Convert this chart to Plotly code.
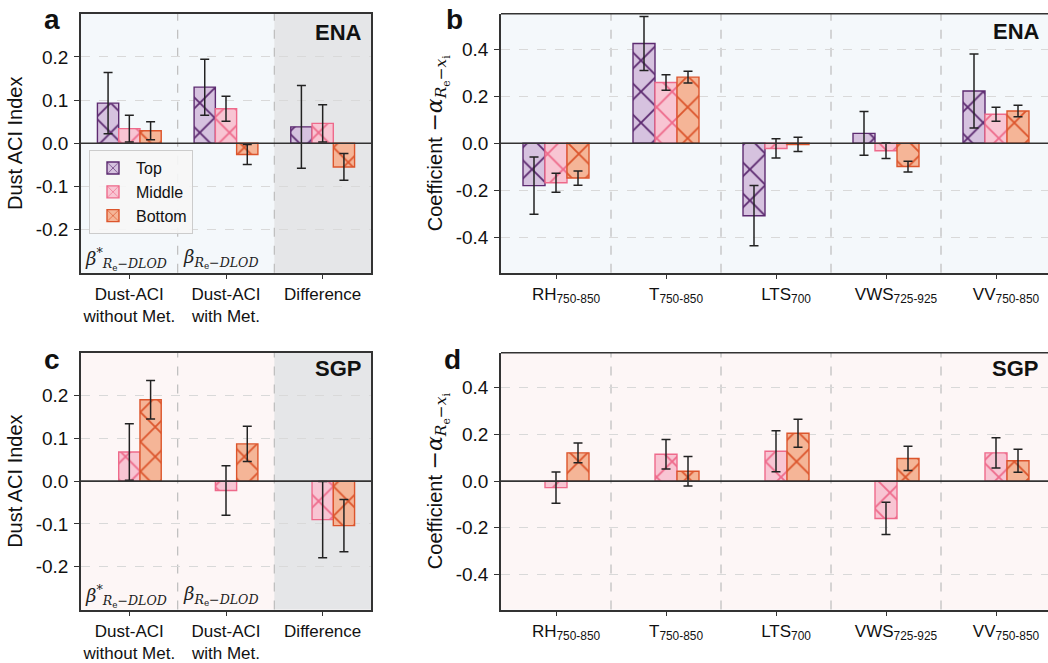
import plotly.graph_objects as go

# ---------------- data ----------------
cats_aci = ["Dust-ACI<br>without Met.", "Dust-ACI<br>with Met.", "Difference"]
cats_met = ["RH<sub>750-850</sub>", "T<sub>750-850</sub>", "LTS<sub>700</sub>",
            "VWS<sub>725-925</sub>", "VV<sub>750-850</sub>"]
series = ["Top", "Middle", "Bottom"]

ena_aci_top = [0.093, 0.130, 0.038]
ena_aci_top_err = [0.071, 0.065, 0.096]
ena_aci_mid = [0.034, 0.080, 0.046]
ena_aci_mid_err = [0.031, 0.029, 0.043]
ena_aci_bot = [0.029, -0.026, -0.055]
ena_aci_bot_err = [0.021, 0.023, 0.031]

sgp_aci_top = [None, None, None]
sgp_aci_top_err = [None, None, None]
sgp_aci_mid = [0.068, -0.022, -0.090]
sgp_aci_mid_err = [0.066, 0.058, 0.089]
sgp_aci_bot = [0.190, 0.087, -0.104]
sgp_aci_bot_err = [0.045, 0.041, 0.061]

ena_met_top = [-0.180, 0.424, -0.308, 0.042, 0.222]
ena_met_top_err = [0.122, 0.115, 0.128, 0.093, 0.157]
ena_met_mid = [-0.168, 0.258, -0.022, -0.032, 0.123]
ena_met_mid_err = [0.040, 0.033, 0.041, 0.033, 0.030]
ena_met_bot = [-0.148, 0.281, -0.005, -0.099, 0.137]
ena_met_bot_err = [0.030, 0.025, 0.030, 0.023, 0.024]

sgp_met_top = [None, None, None, None, None]
sgp_met_top_err = [None, None, None, None, None]
sgp_met_mid = [-0.028, 0.115, 0.128, -0.160, 0.121]
sgp_met_mid_err = [0.067, 0.063, 0.088, 0.069, 0.065]
sgp_met_bot = [0.121, 0.042, 0.205, 0.097, 0.087]
sgp_met_bot_err = [0.042, 0.063, 0.060, 0.052, 0.049]

aci_ticks = [-0.2, -0.1, 0.0, 0.1, 0.2]
aci_ticktext = ["-0.2", "-0.1", "0.0", "0.1", "0.2"]
met_ticks = [-0.4, -0.2, 0.0, 0.2, 0.4]
met_ticktext = ["-0.4", "-0.2", "0.0", "0.2", "0.4"]

# ---------------- style ----------------
FONT = "Liberation Sans, Arial, sans-serif"
SERIF = "DejaVu Serif, serif"
fills = {"Top": "#d6c2df", "Middle": "#f8c5d3", "Bottom": "#f5b597"}
edges = {"Top": "#5c2a70", "Middle": "#ee6a8b", "Bottom": "#dc552c"}
BG_ENA = "#f4f8fb"
BG_SGP = "#fdf6f6"
BG_DIFF = "#e5e6e8"
AXC = "#333333"

W, H = 1048, 663
fig = go.Figure()

panels = [
    ("x", "y", cats_aci, [ena_aci_top, ena_aci_mid, ena_aci_bot],
     [ena_aci_top_err, ena_aci_mid_err, ena_aci_bot_err], 0.22, True, 21),
    ("x2", "y2", cats_met, [ena_met_top, ena_met_mid, ena_met_bot],
     [ena_met_top_err, ena_met_mid_err, ena_met_bot_err], 0.2, False, 22),
    ("x3", "y3", cats_aci, [sgp_aci_top, sgp_aci_mid, sgp_aci_bot],
     [sgp_aci_top_err, sgp_aci_mid_err, sgp_aci_bot_err], 0.22, False, 21),
    ("x4", "y4", cats_met, [sgp_met_top, sgp_met_mid, sgp_met_bot],
     [sgp_met_top_err, sgp_met_mid_err, sgp_met_bot_err], 0.2, False, 22),
]

for xa, ya, cats, vals, errs, bw, showleg, psize in panels:
    xs = list(range(len(cats)))
    for i, name in enumerate(series):
        fig.add_trace(go.Bar(
            x=xs, y=vals[i], name=name, xaxis=xa, yaxis=ya,
            width=bw, offset=-1.5 * bw + i * bw,
            marker=dict(color=fills[name],
                        line=dict(color=edges[name], width=1.4),
                        pattern=dict(shape="x", fgcolor=edges[name], bgcolor=fills[name],
                                     size=psize, solidity=0.16, fillmode="replace")),
            error_y=dict(type="data", array=errs[i], visible=True,
                         color="#222222", thickness=1.5, width=4.5),
            showlegend=showleg, legendgroup=name,
        ))

# domains
xl = [81 / W, 371 / W]
xr = [501 / W, 1.0]
yt = [1 - 276 / H, 1 - 14 / H]
yb = [1 - 617 / H, 1 - 357 / H]

common_x = dict(showgrid=False, zeroline=False, showline=True, linecolor=AXC, linewidth=1.5,
                ticks="outside", ticklen=5, tickwidth=1.2, tickcolor=AXC,
                tickfont=dict(family=FONT, size=17, color="#111"))
common_y = dict(showgrid=True, gridcolor="#d9d9d9", griddash="dash", gridwidth=1,
                zeroline=False, showline=True, linecolor=AXC, linewidth=1.5,
                ticks="outside", ticklen=5, tickwidth=1.2, tickcolor=AXC,
                ticklabelstandoff=2,
                tickfont=dict(family=FONT, size=19, color="#111"))

ytitle_aci = "Dust ACI Index"
ytitle_met = ('Coefficient <span style="font-family:DejaVu Serif;font-size:22px">−<i>α</i>'
              '<sub><i>R</i><sub>e</sub>−<i>x</i><sub>i</sub></sub></span>')
tfont = dict(family=FONT, size=20, color="#111")

fig.update_layout(
    xaxis=dict(common_x, domain=xl, anchor="y", range=[-0.5, 2.5], tickvals=[0, 1, 2],
               ticktext=cats_aci, mirror=True),
    yaxis=dict(common_y, domain=yt, anchor="x", range=[-0.3, 0.3], tickvals=aci_ticks,
               ticktext=aci_ticktext, mirror=True,
               title=dict(text=ytitle_aci, font=tfont, standoff=8)),
    xaxis2=dict(common_x, domain=xr, anchor="y2", range=[-0.5, -0.5 + 547 / 110],
                tickvals=list(range(5)), ticktext=cats_met, ticklabelshift=10),
    yaxis2=dict(common_y, domain=yt, anchor="x2", range=[-0.55, 0.55], tickvals=met_ticks,
                ticktext=met_ticktext,
                title=dict(text=ytitle_met, font=tfont, standoff=8)),
    xaxis3=dict(common_x, domain=xl, anchor="y3", range=[-0.5, 2.5], tickvals=[0, 1, 2],
                ticktext=cats_aci, mirror=True),
    yaxis3=dict(common_y, domain=yb, anchor="x3", range=[-0.3, 0.3], tickvals=aci_ticks,
                ticktext=aci_ticktext, mirror=True,
                title=dict(text=ytitle_aci, font=tfont, standoff=8)),
    xaxis4=dict(common_x, domain=xr, anchor="y4", range=[-0.5, -0.5 + 547 / 110],
                tickvals=list(range(5)), ticktext=cats_met, ticklabelshift=10),
    yaxis4=dict(common_y, domain=yb, anchor="x4", range=[-0.55, 0.55], tickvals=met_ticks,
                ticktext=met_ticktext,
                title=dict(text=ytitle_met, font=tfont, standoff=8)),
    barmode="overlay",
    width=W, height=H,
    margin=dict(l=0, r=0, t=0, b=0),
    paper_bgcolor="white",
    plot_bgcolor=BG_ENA,
    font=dict(family=FONT, color="#111"),
    legend=dict(x=89 / W, y=1 - 152 / H, xanchor="left", yanchor="top",
                bgcolor="rgba(246,246,246,0.92)", bordercolor="#cccccc", borderwidth=1,
                font=dict(family=FONT, size=16, color="#111"), tracegroupgap=0,
                itemwidth=36),
)

shapes = []
annotations = []

for xa, ya, bg in [("x", "y", BG_ENA), ("x2", "y2", BG_ENA), ("x3", "y3", BG_SGP), ("x4", "y4", BG_SGP)]:
    shapes.append(dict(type="rect", xref=f"{xa} domain", yref=f"{ya} domain", x0=0, x1=1, y0=0, y1=1,
                       fillcolor=bg, line=dict(width=0), layer="below"))
for xa, ya in [("x", "y"), ("x3", "y3")]:
    shapes.append(dict(type="rect", xref=xa, yref=f"{ya} domain", x0=len(cats_aci) - 1.5,
                       x1=len(cats_aci) - 0.5, y0=0, y1=1,
                       fillcolor=BG_DIFF, line=dict(width=0), layer="below"))

for xa, ya, n in [("x", "y", len(cats_aci)), ("x2", "y2", len(cats_met)),
                  ("x3", "y3", len(cats_aci)), ("x4", "y4", len(cats_met))]:
    for k in range(n - 1):
        shapes.append(dict(type="line", xref=xa, yref=f"{ya} domain", x0=k + 0.5, x1=k + 0.5,
                           y0=0, y1=1, line=dict(color="#bdbdbd", width=1.2, dash="dash"),
                           layer="below"))
    shapes.append(dict(type="line", xref=f"{xa} domain", yref=ya, x0=0, x1=1, y0=0, y1=0,
                       line=dict(color=AXC, width=1.6), layer="above"))

for xa, ya in [("x2", "y2"), ("x4", "y4")]:
    shapes.append(dict(type="line", xref=f"{xa} domain", yref=f"{ya} domain", x0=0, x1=1,
                       y0=1, y1=1, line=dict(color=AXC, width=1.5), layer="above"))

fig.update_layout(shapes=shapes)

for txt, x, y in [("a", 52, 20), ("b", 454, 20), ("c", 52, 364), ("d", 452, 364)]:
    annotations.append(dict(text=f"<b>{txt}</b>", xref="paper", yref="paper", x=x / W, y=1 - y / H,
                            xanchor="center", yanchor="middle", showarrow=False,
                            font=dict(family=FONT, size=28, color="#111")))
for txt, x, y in [("ENA", 364, 33), ("ENA", 1042, 32), ("SGP", 363, 373), ("SGP", 1040, 373)]:
    annotations.append(dict(text=f"<b>{txt}</b>", xref="paper", yref="paper", x=x / W, y=1 - y / H,
                            xanchor="right", yanchor="middle", showarrow=False,
                            font=dict(family=FONT, size=22, color="#111")))
for y in [262, 603]:
    annotations.append(dict(text="<i>β</i><sup>*</sup><sub><i>R</i><sub>e</sub><i>−DLOD</i></sub>",
                            xref="paper", yref="paper", x=83 / W, y=1 - y / H,
                            xanchor="left", yanchor="middle", showarrow=False,
                            font=dict(family=SERIF, size=18, color="#222")))
    annotations.append(dict(text="<i>β</i><sub><i>R</i><sub>e</sub><i>−DLOD</i></sub>",
                            xref="paper", yref="paper", x=181 / W, y=1 - y / H,
                            xanchor="left", yanchor="middle", showarrow=False,
                            font=dict(family=SERIF, size=18, color="#222")))

fig.update_layout(annotations=annotations)

fig.write_html("out.html", config={"displayModeBar": False},
               post_script="document.body.style.margin='0';document.body.style.overflow='hidden';")
